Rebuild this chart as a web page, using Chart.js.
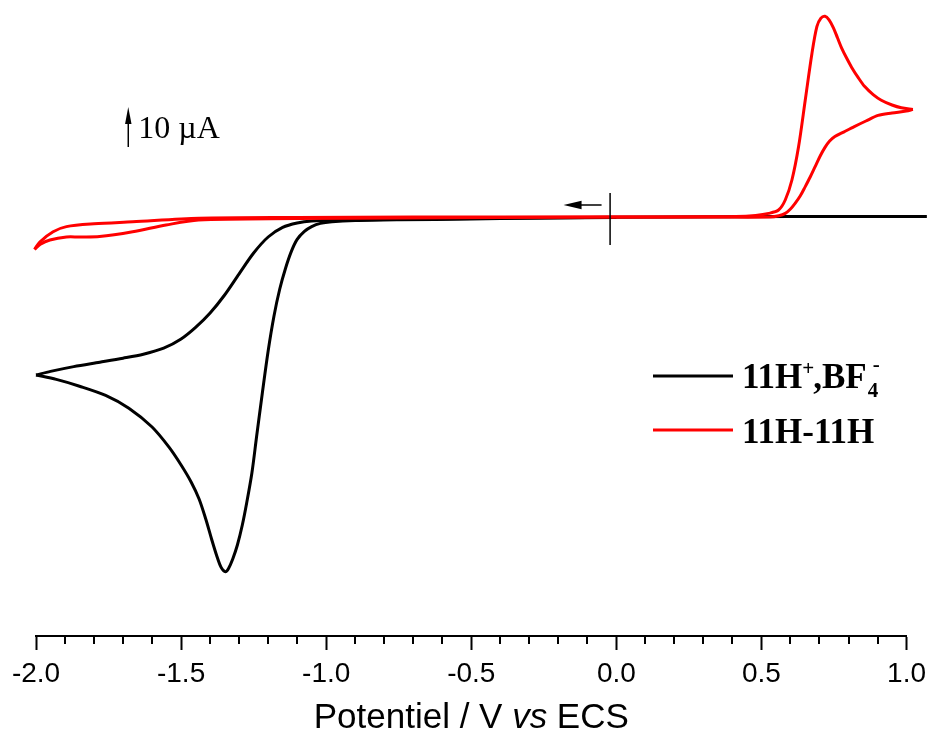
<!DOCTYPE html>
<html>
<head>
<meta charset="utf-8">
<script src="https://cdn.jsdelivr.net/npm/chart.js@4.4.1/dist/chart.umd.min.js"></script>
<style>
  html, body { margin: 0; padding: 0; background: #fff; }
  #wrap { width: 933px; height: 738px; }
</style>
</head>
<body>
<div id="wrap"><canvas id="cv" width="933" height="738"></canvas></div>
<script>
// 11H+,BF4- : sweep towards negative potentials, then back
const blackOutV = [1.07, 0.6, 0.2, -0.2, -0.5, -0.75, -0.9, -0.98, -1.02, -1.05, -1.075, -1.1, -1.12, -1.14, -1.16, -1.18, -1.2, -1.22, -1.24, -1.256, -1.274, -1.289, -1.306, -1.322, -1.336, -1.347, -1.362, -1.378, -1.395, -1.415, -1.438, -1.465, -1.5, -1.541, -1.6, -1.68, -1.76, -1.85, -1.93, -2.0];
const blackOutI = [0.1, 0.1, 0.0, -0.2, -0.5, -0.7, -0.9, -1.2, -1.6, -2.4, -3.6, -5.6, -8.6, -12.8, -18.0, -24.8, -33.5, -44.0, -55.0, -64.0, -71.5, -77.0, -82.0, -85.5, -87.8, -88.7, -87.6, -84.5, -80.5, -75.5, -70.5, -66.3, -62.0, -57.6, -52.5, -47.8, -44.6, -42.3, -40.6, -39.5];
const blackBackV = [-2.0, -1.95, -1.87, -1.78, -1.7, -1.63, -1.56, -1.5, -1.45, -1.4, -1.35, -1.3, -1.25, -1.2, -1.15, -1.1, -1.05, -0.95, -0.8, -0.5, 0.0];
const blackBackI = [-39.5, -38.6, -37.4, -36.3, -35.3, -34.3, -32.8, -30.5, -27.6, -24.0, -19.5, -14.2, -9.0, -5.0, -2.6, -1.5, -1.0, -0.75, -0.6, -0.4, -0.1];

// 11H-11H : start at -0.02 V going negative, back through the oxidation wave, return
const redOutV = [-0.024, -0.4, -0.75, -1.1, -1.44, -1.552, -1.667, -1.781, -1.85, -1.895, -1.952, -1.985, -2.005];
const redOutI = [0.0, -0.1, -0.25, -0.4, -0.75, -2.0, -3.7, -4.9, -5.0, -5.0, -5.75, -6.8, -8.1];
const redBackV = [-2.005, -1.986, -1.941, -1.895, -1.8, -1.667, -1.438, -1.1, -0.7, -0.3, 0.0, 0.3, 0.411, 0.48, 0.525, 0.559, 0.582, 0.605, 0.628, 0.651, 0.674, 0.691, 0.705, 0.719, 0.733, 0.748, 0.762, 0.776, 0.793, 0.811, 0.833, 0.856, 0.885, 0.913, 0.95, 0.982, 1.022];
const redBackI = [-8.1, -6.2, -3.7, -2.4, -1.7, -1.2, -0.3, -0.1, 0.0, 0.0, 0.0, 0.05, 0.1, 0.4, 0.9, 1.75, 4.25, 9.25, 17.6, 29.25, 40.9, 47.6, 49.7, 50.2, 49.3, 47.3, 44.8, 42.3, 39.8, 37.4, 34.9, 32.6, 30.6, 29.2, 28.0, 27.3, 26.9];
const redReturnV = [1.022, 0.999, 0.95, 0.902, 0.86, 0.82, 0.785, 0.753, 0.735, 0.719, 0.702, 0.685, 0.668, 0.651, 0.634, 0.616, 0.6, 0.582, 0.56, 0.53, 0.3, 0.0, -0.024];
const redReturnI = [26.9, 26.5, 26.0, 25.4, 24.0, 22.6, 21.3, 20.1, 19.0, 17.4, 15.2, 12.6, 10.0, 7.6, 5.3, 3.4, 2.0, 0.9, 0.3, 0.0, 0.0, 0.0, 0.0];

const majorTicks = [-2.0, -1.5, -1.0, -0.5, 0.0, 0.5, 1.0];
const minorTicks = [-1.9, -1.8, -1.7, -1.6, -1.4, -1.3, -1.2, -1.1, -0.9, -0.8, -0.7, -0.6, -0.4, -0.3, -0.2, -0.1, 0.1, 0.2, 0.3, 0.4, 0.6, 0.7, 0.8, 0.9];

const seriesNames = ["11H+,BF4-", "11H-11H"];
const BLACK = "#000000";
const RED = "#ff0000";

function pts(xs, ys) {
  return xs.map((x, i) => ({ x, y: ys[i] }));
}

function curve(xs, ys, color, order) {
  return {
    data: pts(xs, ys),
    borderColor: color,
    backgroundColor: color,
    borderWidth: 3,
    pointRadius: 0,
    showLine: true,
    tension: 0.3,
    clip: false,
    order,
  };
}

function arrowHead(ctx, tipX, tipY, dx, dy, len, half) {
  // dx,dy unit vector pointing toward the tip
  const bx = tipX - dx * len;
  const by = tipY - dy * len;
  ctx.beginPath();
  ctx.moveTo(tipX, tipY);
  ctx.lineTo(bx - dy * half, by + dx * half);
  ctx.lineTo(bx + dy * half, by - dx * half);
  ctx.closePath();
  ctx.fill();
}

const decorations = {
  id: "decorations",
  afterDraw(chart) {
    const { ctx, scales } = chart;
    const x = scales.x, y = scales.y;
    ctx.save();
    ctx.fillStyle = "#000";
    ctx.strokeStyle = "#000";

    // minor ticks
    ctx.lineWidth = 2;
    const axisY = chart.chartArea.bottom;
    minorTicks.forEach((v) => {
      const px = Math.round(x.getPixelForValue(v));
      ctx.beginPath();
      ctx.moveTo(px, axisY);
      ctx.lineTo(px, axisY + 8);
      ctx.stroke();
    });

    // axis title with italic "vs"
    const parts = [
      { t: "Potentiel / V ", f: "35px 'Liberation Sans', Arial, sans-serif" },
      { t: "vs", f: "italic 35px 'Liberation Sans', Arial, sans-serif" },
      { t: " ECS", f: "35px 'Liberation Sans', Arial, sans-serif" },
    ];
    let total = 0;
    parts.forEach((p) => { ctx.font = p.f; p.w = ctx.measureText(p.t).width; total += p.w; });
    let tx = (chart.chartArea.left + chart.chartArea.right) / 2 - total / 2;
    ctx.textBaseline = "alphabetic";
    ctx.textAlign = "left";
    parts.forEach((p) => { ctx.font = p.f; ctx.fillText(p.t, tx, 728); tx += p.w; });

    // 10 µA scale arrow
    const sx = x.getPixelForValue(-1.682);
    const sTop = y.getPixelForValue(27.5);
    const sBot = y.getPixelForValue(17.5);
    ctx.lineWidth = 1.5;
    ctx.beginPath();
    ctx.moveTo(sx, sBot);
    ctx.lineTo(sx, sTop + 10);
    ctx.stroke();
    arrowHead(ctx, sx, sTop, 0, -1, 17, 3.2);
    ctx.font = "32px 'Liberation Serif', 'Times New Roman', serif";
    ctx.fillText("10 \u00b5A", sx + 10, sTop + 31);

    // scan start marker and direction
    const mx = x.getPixelForValue(-0.0216);
    ctx.lineWidth = 1.5;
    ctx.beginPath();
    ctx.moveTo(mx, y.getPixelForValue(6));
    ctx.lineTo(mx, y.getPixelForValue(-7));
    ctx.stroke();
    const ay = y.getPixelForValue(3);
    const aStart = x.getPixelForValue(-0.051);
    const aTip = x.getPixelForValue(-0.182);
    ctx.beginPath();
    ctx.moveTo(aStart, ay);
    ctx.lineTo(aTip + 10, ay);
    ctx.stroke();
    arrowHead(ctx, aTip, ay, -1, 0, 18, 4.3);

    // legend
    const lx0 = 653, lx1 = 733, tx0 = 742;
    const rows = [
      { color: BLACK, ly: 376, base: 388 },
      { color: RED, ly: 430, base: 443 },
    ];
    rows.forEach((r) => {
      ctx.strokeStyle = r.color;
      ctx.lineWidth = 3;
      ctx.beginPath();
      ctx.moveTo(lx0, r.ly);
      ctx.lineTo(lx1, r.ly);
      ctx.stroke();
    });
    const big = "bold 35px 'Liberation Serif', 'Times New Roman', serif";
    const small = "bold 21px 'Liberation Serif', 'Times New Roman', serif";
    ctx.fillStyle = "#000";
    // first row: 11H⁺,BF₄⁻
    let cx = tx0;
    const b0 = rows[0].base;
    ctx.font = big; ctx.fillText("11H", cx, b0); cx += ctx.measureText("11H").width;
    ctx.font = small; ctx.fillText("+", cx, b0 - 13); cx += ctx.measureText("+").width - 1;
    ctx.font = big; ctx.fillText(",BF", cx, b0); cx += ctx.measureText(",BF").width + 1;
    ctx.font = small; ctx.fillText("4", cx, b0 + 9); ctx.fillText("-", cx + 5, b0 - 17);
    // second row
    ctx.font = big; ctx.fillText(seriesNames[1], tx0, rows[1].base);

    ctx.restore();
  },
};

new Chart(document.getElementById("cv"), {
  type: "scatter",
  data: {
    datasets: [
      curve(redOutV, redOutI, RED, 0),
      curve(redBackV, redBackI, RED, 0),
      curve(redReturnV, redReturnI, RED, 0),
      curve(blackOutV, blackOutI, BLACK, 1),
      curve(blackBackV, blackBackI, BLACK, 1),
    ],
  },
  options: {
    responsive: false,
    animation: false,
    devicePixelRatio: 1,
    layout: { padding: { left: 36, right: 21, top: 0, bottom: 0 } },
    plugins: { legend: { display: false }, tooltip: { enabled: false } },
    scales: {
      x: {
        type: "linear",
        min: -2.0,
        max: 1.0,
        afterBuildTicks: (scale) => { scale.ticks = majorTicks.map((v) => ({ value: v })); },
        afterFit: (scale) => { scale.height = 102; },
        ticks: {
          color: "#000",
          padding: 7,
          maxRotation: 0,
          font: { family: "'Liberation Sans', Arial, sans-serif", size: 28 },
          callback: (v) => Number(v).toFixed(1),
        },
        grid: { drawOnChartArea: false, drawTicks: true, tickLength: 14, color: "#000", tickWidth: 2 },
        border: { display: true, color: "#000", width: 2 },
      },
      y: {
        type: "linear",
        display: false,
        min: -104.75,
        max: 54.25,
      },
    },
  },
  plugins: [decorations],
});
</script>
</body>
</html>
